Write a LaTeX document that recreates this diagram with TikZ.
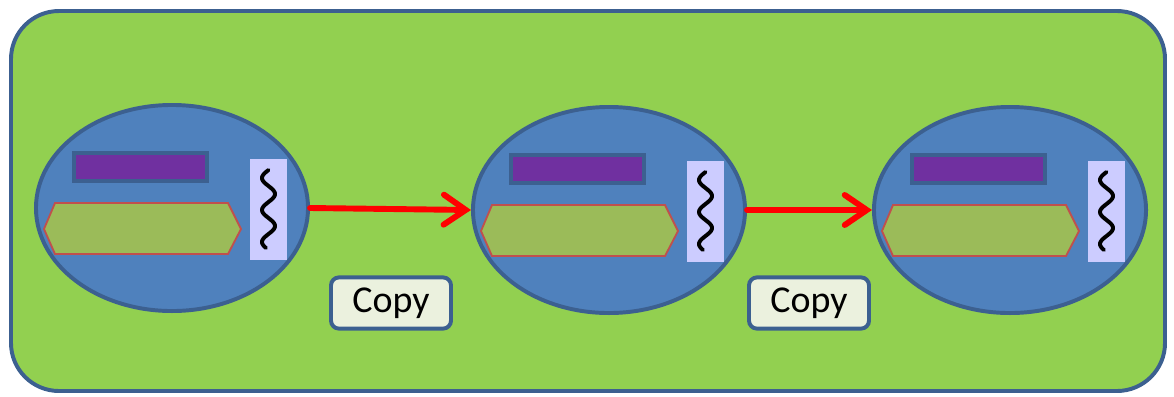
\documentclass[tikz,border=0pt]{standalone}
\usepackage{fontspec}
\setmainfont{Carlito}
\usetikzlibrary{shapes.geometric,arrows.meta}

\definecolor{boardgreen}{HTML}{92D050}
\definecolor{edgeblue}{HTML}{3C6090}
\definecolor{cellblue}{HTML}{4F81BD}
\definecolor{barpurple}{HTML}{7030A0}
\definecolor{hexgreen}{HTML}{9BBB59}
\definecolor{hexred}{HTML}{C0504D}
\definecolor{stackblue}{HTML}{CCCCFF}
\definecolor{labelfill}{HTML}{EBF1DE}

\tikzset{
  cell/.style={ellipse, draw=edgeblue, fill=cellblue, line width=2.8pt,
    minimum width=6.8cm, minimum height=5.15cm, inner sep=0pt},
  bar/.style={draw=edgeblue, fill=barpurple, line width=3.4pt},
  hexa/.style={draw=hexred, fill=hexgreen, line width=1.3pt},
  stack/.style={fill=stackblue},
  wave/.style={black, line width=2.8pt, line cap=round},
  copyarrow/.style={red, line width=4.2pt, line cap=round,
    -{Straight Barb[length=0.55cm, width=0.75cm, line cap=round]}},
  copylabel/.style={draw=edgeblue, fill=labelfill, line width=2.8pt, rounded corners=0.2cm,
    minimum width=3.0cm, minimum height=1.28cm, font=\fontsize{27}{30}\selectfont},
}

% what sits inside one cell, around its centre
\newcommand{\cellparts}[1]{%
  \begin{scope}[shift={(#1.center)}]
    \draw[bar] (-98,-55) rectangle (35,-27);
    \draw[hexa] (-128,21) -- (-117,-5) -- (56,-5) -- (69,21) -- (56,46) -- (-117,46) -- cycle;
    \fill[stack] (78,-49) rectangle (115,52);
    \draw[wave] plot[domain=-38:40, samples=80] ({96.5+6.5*sin((\x+38)*11.25+180)}, \x);
  \end{scope}}

\begin{document}
\begin{tikzpicture}[x=0.025cm, y=-0.025cm]
  \useasboundingbox (0,0) rectangle (1174,396);
  \draw[draw=edgeblue, fill=boardgreen, line width=2.8pt, rounded corners=1.2cm]
    (11,11) rectangle (1165,391);

  \node[cell] (c1) at (172,208) {};
  \node[cell] (c2) at (609,210) {};
  \node[cell] (c3) at (1010,210) {};
  \cellparts{c1}
  \cellparts{c2}
  \cellparts{c3}

  \draw[copyarrow] (c1.east) -- (c2.west);
  \draw[copyarrow] (c2.east) -- (c3.west);

  \node[copylabel] (copy1) at (391,303) {Copy};
  \node[copylabel] (copy2) at (809,303) {Copy};
\end{tikzpicture}
\end{document}
